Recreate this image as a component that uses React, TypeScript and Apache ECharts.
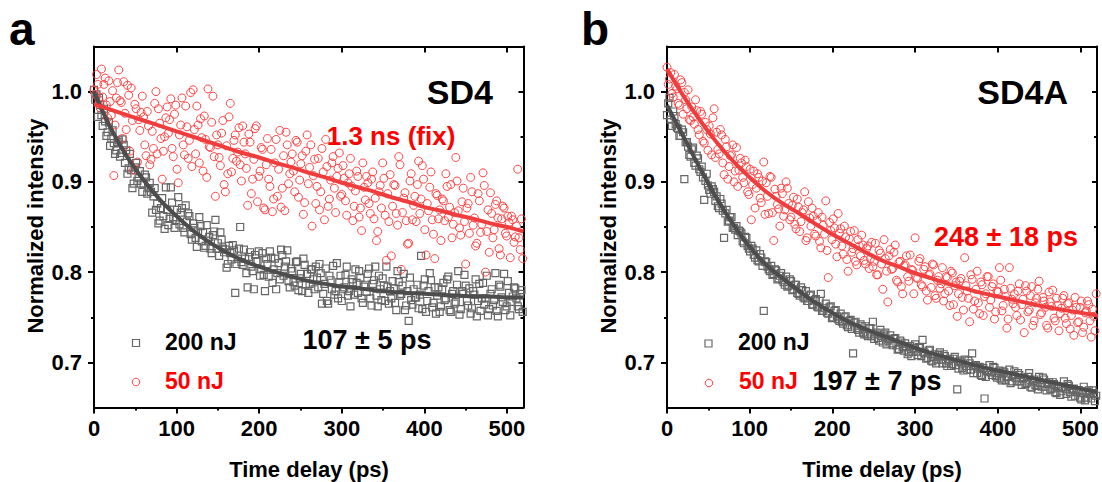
import React, { useEffect, useRef } from 'react';
import * as echarts from 'echarts';

// Time delays (ps): main grid and the interleaved half-step grid
const delays = [
  0, 3, 6, 9, 12, 15, 18, 21, 24, 27,
  30, 33, 36, 39, 42, 45, 48, 51, 54, 57,
  60, 63, 66, 69, 72, 75, 78, 81, 84, 87,
  90, 93, 96, 99, 102, 105, 108, 111, 114, 117,
  120, 123, 126, 129, 132, 135, 138, 141, 144, 147,
  150, 153, 156, 159, 162, 165, 168, 171, 174, 177,
  180, 183, 186, 189, 192, 195, 198, 201, 204, 207,
  210, 213, 216, 219, 222, 225, 228, 231, 234, 237,
  240, 243, 246, 249, 252, 255, 258, 261, 264, 267,
  270, 273, 276, 279, 282, 285, 288, 291, 294, 297,
  300, 303, 306, 309, 312, 315, 318, 321, 324, 327,
  330, 333, 336, 339, 342, 345, 348, 351, 354, 357,
  360, 363, 366, 369, 372, 375, 378, 381, 384, 387,
  390, 393, 396, 399, 402, 405, 408, 411, 414, 417,
  420, 423, 426, 429, 432, 435, 438, 441, 444, 447,
  450, 453, 456, 459, 462, 465, 468, 471, 474, 477,
  480, 483, 486, 489, 492, 495, 498, 501, 504, 507,
  510, 513, 516, 519,
];
const delaysHalf = [
  1.5, 4.5, 7.5, 10.5, 13.5, 16.5, 19.5, 22.5, 25.5, 28.5,
  31.5, 34.5, 37.5, 40.5, 43.5, 46.5, 49.5, 52.5, 55.5, 58.5,
  61.5, 64.5, 67.5, 70.5, 73.5, 76.5, 79.5, 82.5, 85.5, 88.5,
  91.5, 94.5, 97.5, 100.5, 103.5, 106.5, 109.5, 112.5, 115.5, 118.5,
  121.5, 124.5, 127.5, 130.5, 133.5, 136.5, 139.5, 142.5, 145.5, 148.5,
  151.5, 154.5, 157.5, 160.5, 163.5, 166.5, 169.5, 172.5, 175.5, 178.5,
  181.5, 184.5, 187.5, 190.5, 193.5, 196.5, 199.5, 202.5, 205.5, 208.5,
  211.5, 214.5, 217.5, 220.5, 223.5, 226.5, 229.5, 232.5, 235.5, 238.5,
  241.5, 244.5, 247.5, 250.5, 253.5, 256.5, 259.5, 262.5, 265.5, 268.5,
  271.5, 274.5, 277.5, 280.5, 283.5, 286.5, 289.5, 292.5, 295.5, 298.5,
  301.5, 304.5, 307.5, 310.5, 313.5, 316.5, 319.5, 322.5, 325.5, 328.5,
  331.5, 334.5, 337.5, 340.5, 343.5, 346.5, 349.5, 352.5, 355.5, 358.5,
  361.5, 364.5, 367.5, 370.5, 373.5, 376.5, 379.5, 382.5, 385.5, 388.5,
  391.5, 394.5, 397.5, 400.5, 403.5, 406.5, 409.5, 412.5, 415.5, 418.5,
  421.5, 424.5, 427.5, 430.5, 433.5, 436.5, 439.5, 442.5, 445.5, 448.5,
  451.5, 454.5, 457.5, 460.5, 463.5, 466.5, 469.5, 472.5, 475.5, 478.5,
  481.5, 484.5, 487.5, 490.5, 493.5, 496.5, 499.5, 502.5, 505.5, 508.5,
  511.5, 514.5, 517.5,
];

// Panel a (SD4), main grid
const sd4_200nJ = [
  1.002, 0.997, 0.993, 0.974, 0.981, 0.951, 0.966, 0.948, 0.943, 0.935,
  0.946, 0.932, 0.941, 0.935, 0.915, 0.913, 0.898, 0.921, 0.904, 0.898,
  0.898, 0.905, 0.893, 0.889, 0.884, 0.869, 0.854, 0.871, 0.862, 0.894,
  0.852, 0.894, 0.861, 0.858, 0.883, 0.866, 0.849, 0.874, 0.865, 0.842,
  0.854, 0.838, 0.845, 0.851, 0.844, 0.829, 0.835, 0.826, 0.841, 0.858,
  0.832, 0.844, 0.826, 0.825, 0.809, 0.821, 0.830, 0.777, 0.815, 0.850,
  0.808, 0.815, 0.783, 0.822, 0.801, 0.819, 0.812, 0.796, 0.821, 0.779,
  0.809, 0.823, 0.788, 0.815, 0.799, 0.792, 0.819, 0.806, 0.824, 0.783,
  0.801, 0.785, 0.812, 0.793, 0.779, 0.808, 0.798, 0.787, 0.803, 0.781,
  0.794, 0.809, 0.765, 0.787, 0.768, 0.796, 0.781, 0.775, 0.810, 0.789,
  0.768, 0.783, 0.806, 0.779, 0.792, 0.775, 0.788, 0.801, 0.771, 0.784,
  0.778, 0.804, 0.763, 0.791, 0.774, 0.796, 0.769, 0.785, 0.806, 0.765,
  0.771, 0.782, 0.758, 0.789, 0.776, 0.798, 0.763, 0.746, 0.769, 0.781,
  0.772, 0.760, 0.818, 0.785, 0.756, 0.779, 0.791, 0.766, 0.754, 0.783,
  0.762, 0.788, 0.771, 0.795, 0.756, 0.779, 0.767, 0.801, 0.759, 0.776,
  0.785, 0.763, 0.754, 0.779, 0.792, 0.768, 0.757, 0.788, 0.771, 0.752,
  0.776, 0.763, 0.799, 0.751, 0.784, 0.767, 0.758, 0.790, 0.752, 0.773,
  0.782, 0.762, 0.776, 0.756,
];
const sd4_50nJ = [
  1.002, 1.019, 0.991, 1.025, 1.008, 0.985, 1.012, 0.974, 0.907, 0.993,
  1.024, 0.988, 1.011, 0.958, 0.996, 1.004, 0.913, 0.981, 0.969, 0.977,
  0.972, 0.929, 0.962, 0.925, 0.937, 1.000, 0.981, 0.948, 0.934, 0.971,
  0.954, 0.992, 0.928, 0.985, 0.899, 0.963, 0.941, 0.984, 0.926, 0.999,
  1.002, 0.931, 0.963, 0.970, 0.912, 0.947, 1.003, 0.938, 0.995, 0.884,
  0.941, 0.918, 0.968, 0.889, 0.909, 0.987, 0.926, 0.952, 0.933, 0.919,
  0.962, 0.931, 0.874, 0.944, 0.903, 0.959, 0.878, 0.912, 0.936, 0.869,
  0.948, 0.895, 0.867, 0.921, 0.884, 0.957, 0.893, 0.868, 0.941, 0.909,
  0.931, 0.889, 0.944, 0.902, 0.929, 0.877, 0.952, 0.916, 0.851, 0.925,
  0.895, 0.869, 0.937, 0.858, 0.917, 0.881, 0.921, 0.893, 0.906, 0.932,
  0.886, 0.904, 0.863, 0.909, 0.895, 0.873, 0.912, 0.861, 0.846, 0.894,
  0.906, 0.876, 0.903, 0.859, 0.835, 0.889, 0.871, 0.904, 0.813, 0.856,
  0.818, 0.897, 0.865, 0.928, 0.803, 0.882, 0.857, 0.832, 0.909, 0.874,
  0.856, 0.923, 0.881, 0.903, 0.819, 0.868, 0.911, 0.842, 0.887, 0.859,
  0.835, 0.879, 0.909, 0.861, 0.897, 0.853, 0.927, 0.868, 0.841, 0.893,
  0.809, 0.876, 0.905, 0.852, 0.829, 0.887, 0.844, 0.910, 0.800, 0.869,
  0.888, 0.838, 0.875, 0.860, 0.819, 0.873, 0.843, 0.862, 0.816, 0.858,
  0.839, 0.914, 0.825, 0.815,
];
// Panel a (SD4), half-step grid
const sd4_200nJ_half = [
  0.991, 0.972, 0.985, 0.962, 0.967, 0.955, 0.940, 0.957, 0.931, 0.944,
  0.928, 0.947, 0.921, 0.909, 0.931, 0.893, 0.916, 0.901, 0.912, 0.889,
  0.908, 0.887, 0.899, 0.866, 0.893, 0.876, 0.857, 0.882, 0.848, 0.869,
  0.859, 0.877, 0.849, 0.869, 0.853, 0.871, 0.844, 0.856, 0.862, 0.836,
  0.849, 0.828, 0.861, 0.834, 0.827, 0.852, 0.839, 0.821, 0.845, 0.826,
  0.818, 0.836, 0.822, 0.805, 0.829, 0.814, 0.824, 0.809, 0.826, 0.811,
  0.825, 0.799, 0.817, 0.806, 0.781, 0.812, 0.823, 0.803, 0.797, 0.815,
  0.795, 0.816, 0.803, 0.781, 0.810, 0.825, 0.796, 0.812, 0.790, 0.804,
  0.789, 0.811, 0.780, 0.798, 0.815, 0.786, 0.777, 0.803, 0.792, 0.806,
  0.783, 0.799, 0.776, 0.804, 0.765, 0.791, 0.807, 0.779, 0.771, 0.796,
  0.781, 0.797, 0.774, 0.762, 0.789, 0.803, 0.777, 0.794, 0.766, 0.786,
  0.798, 0.771, 0.787, 0.806, 0.762, 0.781, 0.793, 0.768, 0.784, 0.779,
  0.790, 0.766, 0.801, 0.774, 0.785, 0.758, 0.779, 0.794, 0.764, 0.772,
  0.786, 0.775, 0.759, 0.792, 0.768, 0.799, 0.761, 0.783, 0.774, 0.756,
  0.781, 0.769, 0.792, 0.758, 0.776, 0.765, 0.786, 0.753, 0.779, 0.797,
  0.768, 0.782, 0.760, 0.775, 0.751, 0.787, 0.771, 0.764, 0.796, 0.759,
  0.781, 0.769, 0.757, 0.786, 0.772, 0.798, 0.762, 0.777, 0.767, 0.783,
  0.771, 0.759, 0.780,
];
const sd4_50nJ_half = [
  0.997, 1.008, 0.982, 0.994, 1.015, 0.971, 0.989, 1.001, 0.963, 1.010,
  0.990, 0.948, 0.976, 1.007, 0.934, 0.968, 0.986, 0.922, 0.957, 0.995,
  0.941, 0.978, 0.919, 0.956, 0.987, 0.931, 0.965, 0.903, 0.950, 0.983,
  0.969, 0.937, 0.975, 0.914, 0.952, 0.993, 0.930, 0.961, 0.946, 0.917,
  0.958, 0.984, 0.921, 0.949, 0.973, 0.905, 0.939, 0.966, 0.928, 0.952,
  0.927, 0.954, 0.897, 0.940, 0.972, 0.911, 0.946, 0.923, 0.960, 0.901,
  0.944, 0.915, 0.953, 0.887, 0.925, 0.962, 0.906, 0.938, 0.871, 0.919,
  0.903, 0.936, 0.881, 0.947, 0.914, 0.872, 0.929, 0.955, 0.898, 0.922,
  0.912, 0.946, 0.883, 0.920, 0.864, 0.934, 0.898, 0.941, 0.907, 0.876,
  0.926, 0.889, 0.911, 0.947, 0.873, 0.902, 0.928, 0.866, 0.915, 0.884,
  0.918, 0.879, 0.899, 0.926, 0.857, 0.890, 0.906, 0.871, 0.921, 0.880,
  0.899, 0.865, 0.911, 0.882, 0.845, 0.896, 0.921, 0.863, 0.887, 0.908,
  0.873, 0.896, 0.852, 0.919, 0.866, 0.888, 0.831, 0.901, 0.858, 0.884,
  0.897, 0.865, 0.918, 0.847, 0.876, 0.894, 0.858, 0.815, 0.885, 0.869,
  0.881, 0.857, 0.895, 0.872, 0.838, 0.866, 0.901, 0.849, 0.878, 0.856,
  0.871, 0.843, 0.889, 0.860, 0.832, 0.879, 0.853, 0.896, 0.845, 0.822,
  0.865, 0.847, 0.879, 0.826, 0.859, 0.871, 0.840, 0.855, 0.862, 0.833,
  0.851, 0.838, 0.859,
];

// Panel b (SD4A), main grid
const sd4a_200nJ = [
  0.974, 0.993, 0.962, 0.973, 0.960, 0.951, 0.958, 0.903, 0.944, 0.930,
  0.936, 0.921, 0.929, 0.914, 0.917, 0.880, 0.909, 0.891, 0.895, 0.889,
  0.884, 0.871, 0.876, 0.838, 0.869, 0.857, 0.861, 0.849, 0.851, 0.846,
  0.843, 0.832, 0.838, 0.826, 0.829, 0.819, 0.824, 0.812, 0.816, 0.757,
  0.811, 0.803, 0.807, 0.798, 0.802, 0.793, 0.799, 0.789, 0.795, 0.785,
  0.790, 0.781, 0.786, 0.776, 0.783, 0.772, 0.779, 0.768, 0.775, 0.764,
  0.770, 0.761, 0.776, 0.757, 0.765, 0.754, 0.762, 0.750, 0.758, 0.748,
  0.754, 0.743, 0.751, 0.739, 0.747, 0.710, 0.745, 0.736, 0.742, 0.733,
  0.740, 0.729, 0.738, 0.745, 0.731, 0.727, 0.736, 0.722, 0.733, 0.724,
  0.730, 0.719, 0.727, 0.714, 0.724, 0.717, 0.721, 0.709, 0.718, 0.712,
  0.720, 0.708, 0.716, 0.725, 0.710, 0.705, 0.714, 0.701, 0.709, 0.703,
  0.711, 0.699, 0.707, 0.696, 0.704, 0.698, 0.706, 0.670, 0.702, 0.694,
  0.703, 0.692, 0.699, 0.710, 0.696, 0.688, 0.695, 0.685, 0.660, 0.690,
  0.697, 0.686, 0.694, 0.683, 0.691, 0.680, 0.689, 0.684, 0.692, 0.679,
  0.690, 0.679, 0.686, 0.675, 0.683, 0.677, 0.688, 0.672, 0.681, 0.674,
  0.684, 0.673, 0.681, 0.669, 0.678, 0.671, 0.676, 0.666, 0.673, 0.668,
  0.679, 0.665, 0.674, 0.662, 0.671, 0.667, 0.669, 0.659, 0.673, 0.661,
  0.669, 0.660, 0.666, 0.663,
];
const sd4a_50nJ = [
  1.027, 1.014, 0.998, 1.019, 1.003, 0.985, 1.010, 0.999, 0.981, 0.969,
  0.983, 0.964, 0.979, 0.952, 0.975, 0.943, 0.958, 0.962, 0.930, 0.981,
  0.955, 0.931, 0.952, 0.908, 0.939, 0.917, 0.930, 0.900, 0.938, 0.913,
  0.921, 0.899, 0.917, 0.886, 0.858, 0.912, 0.893, 0.905, 0.877, 0.922,
  0.899, 0.865, 0.905, 0.835, 0.884, 0.870, 0.893, 0.862, 0.900, 0.876,
  0.861, 0.883, 0.848, 0.872, 0.856, 0.869, 0.835, 0.878, 0.851, 0.862,
  0.840, 0.866, 0.827, 0.852, 0.879, 0.794, 0.846, 0.859, 0.831, 0.865,
  0.848, 0.820, 0.839, 0.801, 0.845, 0.826, 0.812, 0.836, 0.818, 0.830,
  0.809, 0.829, 0.815, 0.806, 0.832, 0.797, 0.821, 0.781, 0.815, 0.767,
  0.825, 0.804, 0.830, 0.789, 0.812, 0.776, 0.808, 0.795, 0.819, 0.802,
  0.838, 0.793, 0.815, 0.784, 0.806, 0.769, 0.798, 0.809, 0.774, 0.791,
  0.782, 0.805, 0.776, 0.794, 0.763, 0.799, 0.785, 0.751, 0.790, 0.772,
  0.816, 0.779, 0.745, 0.792, 0.768, 0.801, 0.754, 0.786, 0.773, 0.795,
  0.761, 0.784, 0.748, 0.779, 0.805, 0.757, 0.781, 0.738, 0.805, 0.770,
  0.776, 0.752, 0.787, 0.764, 0.733, 0.779, 0.758, 0.784, 0.746, 0.771,
  0.790, 0.755, 0.768, 0.741, 0.778, 0.762, 0.749, 0.771, 0.735, 0.760,
  0.774, 0.743, 0.766, 0.752, 0.730, 0.761, 0.745, 0.768, 0.739, 0.757,
  0.764, 0.728, 0.751, 0.776,
];
// Panel b (SD4A), half-step grid
const sd4a_200nJ_half = [
  0.987, 0.969, 0.978, 0.964, 0.959, 0.951, 0.955, 0.944, 0.939, 0.928,
  0.938, 0.918, 0.926, 0.911, 0.905, 0.901, 0.896, 0.887, 0.892, 0.879,
  0.873, 0.881, 0.868, 0.865, 0.856, 0.861, 0.849, 0.847, 0.841, 0.845,
  0.834, 0.839, 0.829, 0.823, 0.826, 0.816, 0.813, 0.820, 0.807, 0.812,
  0.806, 0.801, 0.797, 0.803, 0.792, 0.796, 0.791, 0.786, 0.784, 0.792,
  0.780, 0.786, 0.777, 0.774, 0.780, 0.771, 0.768, 0.774, 0.764, 0.769,
  0.762, 0.768, 0.757, 0.760, 0.755, 0.761, 0.749, 0.757, 0.751, 0.746,
  0.745, 0.750, 0.741, 0.746, 0.737, 0.744, 0.738, 0.733, 0.740, 0.731,
  0.731, 0.738, 0.729, 0.726, 0.733, 0.724, 0.729, 0.731, 0.720, 0.726,
  0.721, 0.726, 0.719, 0.715, 0.722, 0.713, 0.718, 0.711, 0.707, 0.716,
  0.712, 0.717, 0.707, 0.711, 0.704, 0.713, 0.702, 0.706, 0.699, 0.708,
  0.703, 0.709, 0.699, 0.702, 0.696, 0.704, 0.697, 0.693, 0.700, 0.691,
  0.696, 0.702, 0.692, 0.688, 0.697, 0.693, 0.686, 0.694, 0.684, 0.690,
  0.689, 0.695, 0.685, 0.688, 0.682, 0.690, 0.680, 0.684, 0.677, 0.686,
  0.683, 0.688, 0.679, 0.682, 0.676, 0.684, 0.673, 0.679, 0.675, 0.670,
  0.677, 0.683, 0.673, 0.676, 0.670, 0.678, 0.667, 0.672, 0.664, 0.673,
  0.671, 0.676, 0.667, 0.670, 0.663, 0.669, 0.661, 0.666, 0.658, 0.667,
  0.665, 0.669, 0.657,
];
const sd4a_50nJ_half = [
  1.008, 1.021, 0.994, 1.006, 0.987, 1.013, 0.975, 0.991, 1.002, 0.968,
  0.972, 0.991, 0.958, 0.978, 0.945, 0.966, 0.935, 0.953, 0.971, 0.927,
  0.936, 0.958, 0.921, 0.947, 0.903, 0.929, 0.941, 0.912, 0.895, 0.926,
  0.905, 0.924, 0.889, 0.914, 0.897, 0.871, 0.909, 0.882, 0.901, 0.864,
  0.884, 0.906, 0.866, 0.892, 0.875, 0.851, 0.887, 0.869, 0.893, 0.858,
  0.874, 0.853, 0.881, 0.845, 0.866, 0.889, 0.838, 0.860, 0.871, 0.842,
  0.857, 0.834, 0.861, 0.842, 0.824, 0.855, 0.836, 0.849, 0.817, 0.843,
  0.829, 0.851, 0.814, 0.837, 0.822, 0.846, 0.808, 0.829, 0.841, 0.813,
  0.826, 0.804, 0.833, 0.812, 0.797, 0.824, 0.809, 0.836, 0.801, 0.818,
  0.803, 0.822, 0.791, 0.811, 0.784, 0.807, 0.818, 0.790, 0.803, 0.776,
  0.794, 0.812, 0.786, 0.803, 0.779, 0.797, 0.783, 0.808, 0.771, 0.795,
  0.787, 0.768, 0.795, 0.779, 0.801, 0.764, 0.789, 0.776, 0.793, 0.758,
  0.785, 0.771, 0.797, 0.759, 0.781, 0.766, 0.789, 0.752, 0.776, 0.795,
  0.769, 0.787, 0.756, 0.778, 0.791, 0.763, 0.773, 0.748, 0.782, 0.765,
  0.761, 0.779, 0.747, 0.770, 0.785, 0.756, 0.774, 0.741, 0.766, 0.781,
  0.753, 0.772, 0.761, 0.738, 0.767, 0.780, 0.746, 0.763, 0.754, 0.771,
  0.749, 0.765, 0.737, 0.758, 0.772, 0.744, 0.761, 0.733, 0.755, 0.768,
  0.746, 0.759, 0.735,
];

// Fitted curves
const fitDelays = [
  0, 20, 40, 60, 80, 100, 120, 140, 160, 180, 200, 220, 240, 260,
  280, 300, 320, 340, 360, 380, 400, 420, 440, 460, 480, 500, 520,
];
const sd4Fit200 = [
  1.000, 0.960, 0.928, 0.902, 0.880, 0.862, 0.846, 0.833, 0.822, 0.813, 0.806, 0.800, 0.795, 0.790,
  0.787, 0.784, 0.782, 0.780, 0.778, 0.777, 0.776, 0.775, 0.774, 0.773, 0.773, 0.772, 0.772,
];
const sd4Fit50 = [
  0.986, 0.980, 0.974, 0.968, 0.962, 0.956, 0.950, 0.944, 0.938, 0.932, 0.927, 0.921, 0.916, 0.910,
  0.905, 0.899, 0.894, 0.889, 0.883, 0.878, 0.872, 0.868, 0.863, 0.859, 0.854, 0.850, 0.845,
];
const sd4aFit200 = [
  0.985, 0.950, 0.915, 0.882, 0.853, 0.828, 0.808, 0.793, 0.779, 0.766, 0.755, 0.745, 0.737, 0.730,
  0.723, 0.716, 0.710, 0.705, 0.700, 0.695, 0.691, 0.687, 0.683, 0.679, 0.675, 0.671, 0.667,
];
const sd4aFit50 = [
  1.025, 0.995, 0.968, 0.944, 0.923, 0.905, 0.889, 0.876, 0.865, 0.853, 0.842, 0.832, 0.822, 0.813,
  0.806, 0.799, 0.793, 0.787, 0.782, 0.777, 0.773, 0.769, 0.765, 0.761, 0.758, 0.755, 0.752,
];

// Axis ticks
const xTicks = [0, 100, 200, 300, 400, 500];
const xMinorTicks = [50, 150, 250, 350, 450];
const yTicks = [0.7, 0.8, 0.9, 1.0];
const yMinorTicks = [0.75, 0.85, 0.95];

const FONT = 'Arial, "Liberation Sans", Helvetica, sans-serif';
const GRAY = '#666666';
const RED_PT = '#ff4545';
const RED_LINE = '#ef3d3d';
const DARK_LINE = '#4d4d4d';
const TEXT_RED = '#ff0000';

const axisLineStyle = { color: '#000', width: 2 };

function xAxesFor(g: number) {
  const base = { type: 'value', gridIndex: g, min: 0, max: 520, splitLine: { show: false } };
  return [
    {
      ...base,
      position: 'bottom',
      axisLine: { show: true, onZero: false, lineStyle: axisLineStyle },
      axisTick: { show: true, inside: false, length: 6, customValues: xTicks, lineStyle: axisLineStyle },
      axisLabel: {
        show: true, customValues: xTicks, margin: 10, color: '#000',
        fontSize: 22, fontWeight: 'bold', fontFamily: FONT,
      },
    },
    {
      ...base,
      position: 'bottom',
      axisLine: { show: false, onZero: false },
      axisTick: { show: true, inside: false, length: 3, customValues: xMinorTicks, lineStyle: axisLineStyle },
      axisLabel: { show: false },
    },
    {
      ...base,
      position: 'top',
      axisLine: { show: true, onZero: false, lineStyle: axisLineStyle },
      axisTick: { show: true, inside: true, length: 6, customValues: xTicks, lineStyle: axisLineStyle },
      axisLabel: { show: false },
    },
  ];
}

function yAxesFor(g: number) {
  const base = { type: 'value', gridIndex: g, min: 0.65, max: 1.05, splitLine: { show: false } };
  return [
    {
      ...base,
      position: 'left',
      axisLine: { show: true, onZero: false, lineStyle: axisLineStyle },
      axisTick: { show: true, inside: false, length: 6, customValues: yTicks, lineStyle: axisLineStyle },
      axisLabel: {
        show: true, customValues: yTicks, margin: 12, color: '#000',
        fontSize: 22, fontWeight: 'bold', fontFamily: FONT,
        formatter: (v: number) => v.toFixed(1),
      },
    },
    {
      ...base,
      position: 'left',
      axisLine: { show: false, onZero: false },
      axisTick: { show: true, inside: false, length: 3, customValues: yMinorTicks, lineStyle: axisLineStyle },
      axisLabel: { show: false },
    },
    {
      ...base,
      position: 'right',
      axisLine: { show: true, onZero: false, lineStyle: axisLineStyle },
      axisTick: { show: true, inside: true, length: 5, customValues: yTicks, lineStyle: axisLineStyle },
      axisLabel: { show: false },
    },
    {
      ...base,
      position: 'right',
      axisLine: { show: false, onZero: false },
      axisTick: { show: true, inside: true, length: 3, customValues: yMinorTicks, lineStyle: axisLineStyle },
      axisLabel: { show: false },
    },
  ];
}

function pairs(ts: number[], vs: number[]) {
  return ts.map((t, i) => [t, vs[i]]);
}

function scatterSeries(
  name: string, xi: number, yi: number, values: number[], halfValues: number[], kind: 'rect' | 'circle',
) {
  return {
    type: 'scatter',
    name,
    xAxisIndex: xi,
    yAxisIndex: yi,
    data: [...pairs(delays, values), ...pairs(delaysHalf, halfValues)],
    symbol: kind,
    symbolSize: kind === 'rect' ? 7 : 8,
    itemStyle: {
      color: 'rgba(255,255,255,0)',
      borderColor: kind === 'rect' ? GRAY : RED_PT,
      borderWidth: kind === 'rect' ? 1.2 : 1,
      opacity: 1,
    },
    silent: true,
    z: 2,
  };
}

function fitSeries(name: string, xi: number, yi: number, values: number[], color: string) {
  return {
    type: 'line',
    name,
    xAxisIndex: xi,
    yAxisIndex: yi,
    data: pairs(fitDelays, values),
    smooth: 0.4,
    showSymbol: false,
    symbol: 'none',
    lineStyle: { color, width: 4 },
    silent: true,
    z: 3,
  };
}

function text(x: number, y: number, str: string, size: number, color: string, align: string, rotation = 0) {
  return {
    type: 'text',
    x,
    y,
    rotation,
    silent: true,
    style: {
      text: str,
      fill: color,
      fontSize: size,
      fontWeight: 'bold',
      fontFamily: FONT,
      align,
      textAlign: align,
      verticalAlign: 'middle',
      textVerticalAlign: 'middle',
    },
  };
}

function legendRect(cx: number, cy: number) {
  return {
    type: 'rect',
    silent: true,
    shape: { x: cx - 3.5, y: cy - 3.5, width: 7, height: 7 },
    style: { fill: 'none', stroke: GRAY, lineWidth: 1.2 },
  };
}
function legendCircle(cx: number, cy: number) {
  return {
    type: 'circle',
    silent: true,
    shape: { cx, cy, r: 3.8 },
    style: { fill: 'none', stroke: RED_PT, lineWidth: 1 },
  };
}

export default function App() {
  const ref = useRef<HTMLDivElement>(null);

  useEffect(() => {
    if (!ref.current) return;
    const chart = echarts.init(ref.current, undefined, { renderer: 'svg' });
    const option = {
      animation: false,
      backgroundColor: '#ffffff',
      grid: [
        { left: 94, top: 46.5, width: 429.5, height: 361 },
        { left: 667, top: 46.5, width: 430, height: 361 },
      ],
      xAxis: [...xAxesFor(0), ...xAxesFor(1)],
      yAxis: [...yAxesFor(0), ...yAxesFor(1)],
      series: [
        scatterSeries('200 nJ', 0, 0, sd4_200nJ, sd4_200nJ_half, 'rect'),
        scatterSeries('50 nJ', 0, 0, sd4_50nJ, sd4_50nJ_half, 'circle'),
        fitSeries('SD4 200 nJ fit', 0, 0, sd4Fit200, DARK_LINE),
        fitSeries('SD4 50 nJ fit', 0, 0, sd4Fit50, RED_LINE),
        scatterSeries('200 nJ', 3, 4, sd4a_200nJ, sd4a_200nJ_half, 'rect'),
        scatterSeries('50 nJ', 3, 4, sd4a_50nJ, sd4a_50nJ_half, 'circle'),
        fitSeries('SD4A 200 nJ fit', 3, 4, sd4aFit200, DARK_LINE),
        fitSeries('SD4A 50 nJ fit', 3, 4, sd4aFit50, RED_LINE),
      ],
      graphic: [
        text(9, 29, 'a', 46, '#000', 'left'),
        text(581, 29, 'b', 46, '#000', 'left'),
        text(493, 92, 'SD4', 34, '#000', 'right'),
        text(1068, 92, 'SD4A', 34, '#000', 'right'),
        text(391, 136, '1.3 ns (fix)', 26, TEXT_RED, 'center'),
        text(367, 340, '107 ± 5 ps', 27, '#000', 'center'),
        text(1006, 237, '248 ± 18 ps', 27, TEXT_RED, 'center'),
        text(877, 381, '197 ± 7 ps', 27, '#000', 'center'),
        legendRect(136, 343),
        text(165, 342, '200 nJ', 23, '#000', 'left'),
        legendCircle(136, 382),
        text(165, 381, '50 nJ', 23, TEXT_RED, 'left'),
        legendRect(708.5, 343.5),
        text(738, 342, '200 nJ', 23, '#000', 'left'),
        legendCircle(709, 383),
        text(739, 381, '50 nJ', 23, TEXT_RED, 'left'),
        text(35, 226, 'Normalized intensity', 22, '#000', 'center', Math.PI / 2),
        text(608, 226, 'Normalized intensity', 22, '#000', 'center', Math.PI / 2),
        text(309, 469, 'Time delay (ps)', 22, '#000', 'center'),
        text(882, 469, 'Time delay (ps)', 22, '#000', 'center'),
      ],
    };
    chart.setOption(option as any);
    return () => chart.dispose();
  }, []);

  return (
    <div
      ref={ref}
      style={{ position: 'fixed', left: 0, top: 0, width: 1102, height: 482, background: '#fff' }}
    />
  );
}
